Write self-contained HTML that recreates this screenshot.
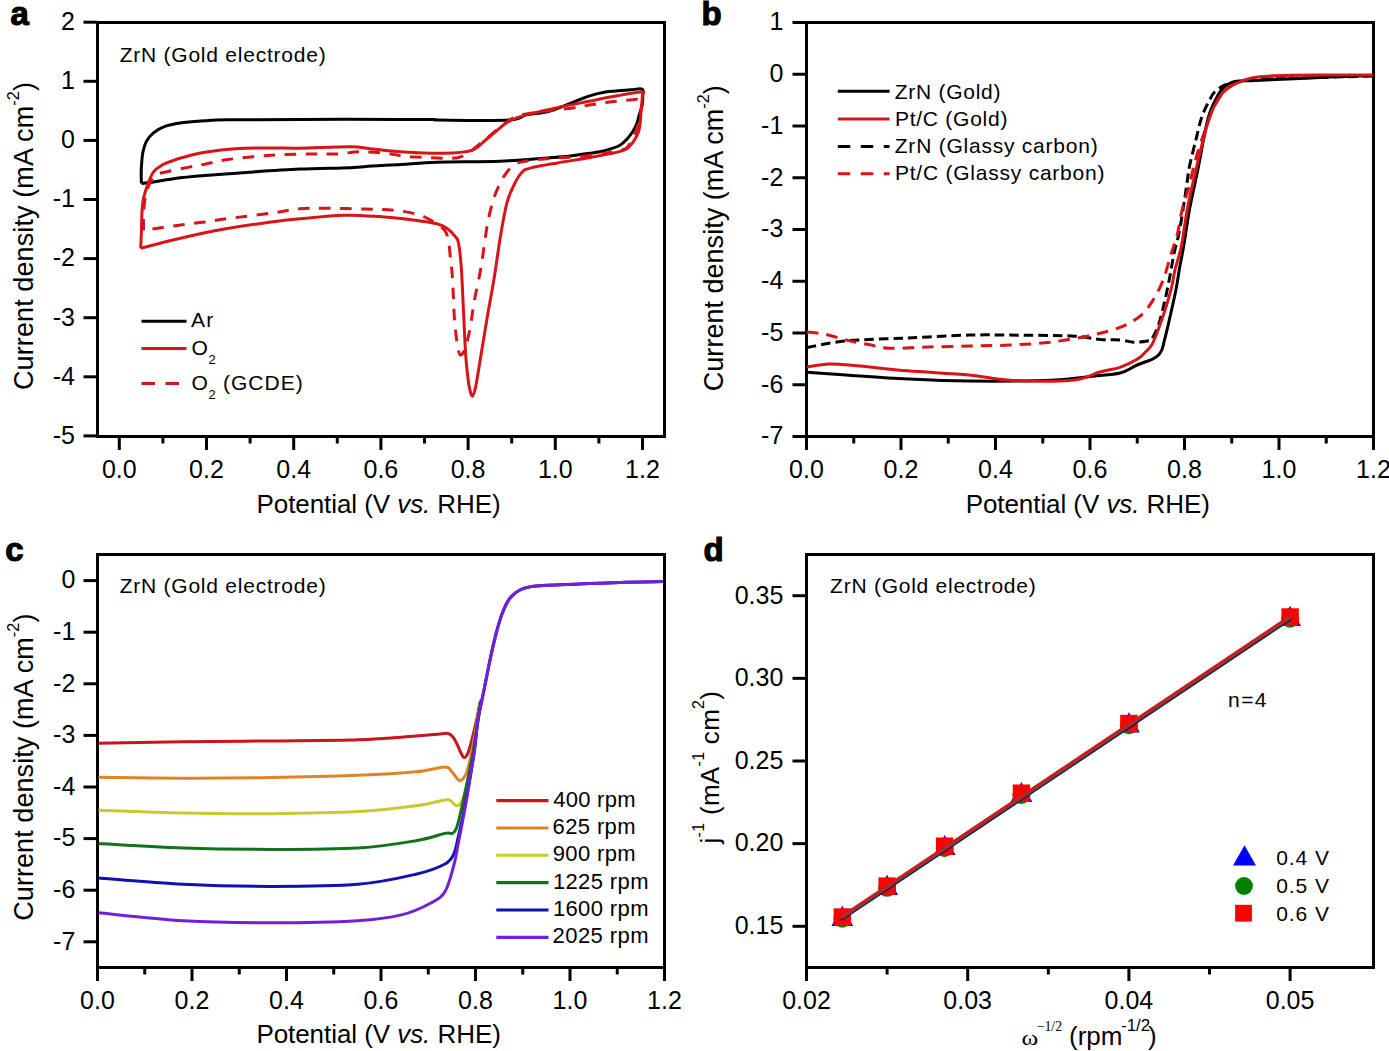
<!DOCTYPE html>
<html><head><meta charset="utf-8"><style>
html,body{margin:0;padding:0;background:#fff;width:1389px;height:1051px;overflow:hidden}
body{position:relative;font-family:"Liberation Sans",sans-serif}
</style></head><body>
<svg width="1389" height="1051" viewBox="0 0 1389 1051" style="position:absolute;left:0;top:0;font-family:'Liberation Sans',sans-serif">
<rect x="97.5" y="22.5" width="567" height="414" fill="none" stroke="#000" stroke-width="3"/>
<line x1="83.5" y1="22.2" x2="97.5" y2="22.2" stroke="#000" stroke-width="3" stroke-linecap="butt"/>
<text x="75" y="30" text-anchor="end" style="font-size:25px">2</text>
<line x1="83.5" y1="81.3" x2="97.5" y2="81.3" stroke="#000" stroke-width="3" stroke-linecap="butt"/>
<text x="75" y="89.1" text-anchor="end" style="font-size:25px">1</text>
<line x1="83.5" y1="140.4" x2="97.5" y2="140.4" stroke="#000" stroke-width="3" stroke-linecap="butt"/>
<text x="75" y="148.2" text-anchor="end" style="font-size:25px">0</text>
<line x1="83.5" y1="199.5" x2="97.5" y2="199.5" stroke="#000" stroke-width="3" stroke-linecap="butt"/>
<text x="75" y="207.3" text-anchor="end" style="font-size:25px">-1</text>
<line x1="83.5" y1="258.6" x2="97.5" y2="258.6" stroke="#000" stroke-width="3" stroke-linecap="butt"/>
<text x="75" y="266.4" text-anchor="end" style="font-size:25px">-2</text>
<line x1="83.5" y1="317.7" x2="97.5" y2="317.7" stroke="#000" stroke-width="3" stroke-linecap="butt"/>
<text x="75" y="325.5" text-anchor="end" style="font-size:25px">-3</text>
<line x1="83.5" y1="376.8" x2="97.5" y2="376.8" stroke="#000" stroke-width="3" stroke-linecap="butt"/>
<text x="75" y="384.6" text-anchor="end" style="font-size:25px">-4</text>
<line x1="83.5" y1="435.9" x2="97.5" y2="435.9" stroke="#000" stroke-width="3" stroke-linecap="butt"/>
<text x="75" y="443.7" text-anchor="end" style="font-size:25px">-5</text>
<line x1="119.3" y1="436.5" x2="119.3" y2="450" stroke="#000" stroke-width="3" stroke-linecap="butt"/>
<text x="119.3" y="477.5" text-anchor="middle" style="font-size:25px">0.0</text>
<line x1="206.5" y1="436.5" x2="206.5" y2="450" stroke="#000" stroke-width="3" stroke-linecap="butt"/>
<text x="206.5" y="477.5" text-anchor="middle" style="font-size:25px">0.2</text>
<line x1="293.7" y1="436.5" x2="293.7" y2="450" stroke="#000" stroke-width="3" stroke-linecap="butt"/>
<text x="293.7" y="477.5" text-anchor="middle" style="font-size:25px">0.4</text>
<line x1="380.9" y1="436.5" x2="380.9" y2="450" stroke="#000" stroke-width="3" stroke-linecap="butt"/>
<text x="380.9" y="477.5" text-anchor="middle" style="font-size:25px">0.6</text>
<line x1="468.1" y1="436.5" x2="468.1" y2="450" stroke="#000" stroke-width="3" stroke-linecap="butt"/>
<text x="468.1" y="477.5" text-anchor="middle" style="font-size:25px">0.8</text>
<line x1="555.3" y1="436.5" x2="555.3" y2="450" stroke="#000" stroke-width="3" stroke-linecap="butt"/>
<text x="555.3" y="477.5" text-anchor="middle" style="font-size:25px">1.0</text>
<line x1="642.5" y1="436.5" x2="642.5" y2="450" stroke="#000" stroke-width="3" stroke-linecap="butt"/>
<text x="642.5" y="477.5" text-anchor="middle" style="font-size:25px">1.2</text>
<line x1="162.9" y1="436.5" x2="162.9" y2="443.5" stroke="#000" stroke-width="3" stroke-linecap="butt"/>
<line x1="250.1" y1="436.5" x2="250.1" y2="443.5" stroke="#000" stroke-width="3" stroke-linecap="butt"/>
<line x1="337.3" y1="436.5" x2="337.3" y2="443.5" stroke="#000" stroke-width="3" stroke-linecap="butt"/>
<line x1="424.5" y1="436.5" x2="424.5" y2="443.5" stroke="#000" stroke-width="3" stroke-linecap="butt"/>
<line x1="511.7" y1="436.5" x2="511.7" y2="443.5" stroke="#000" stroke-width="3" stroke-linecap="butt"/>
<line x1="598.9" y1="436.5" x2="598.9" y2="443.5" stroke="#000" stroke-width="3" stroke-linecap="butt"/>
<rect x="806.5" y="22.5" width="567" height="414" fill="none" stroke="#000" stroke-width="3"/>
<line x1="792.5" y1="22.5" x2="806.5" y2="22.5" stroke="#000" stroke-width="3" stroke-linecap="butt"/>
<text x="783.3" y="30.3" text-anchor="end" style="font-size:25px">1</text>
<line x1="792.5" y1="74.25" x2="806.5" y2="74.25" stroke="#000" stroke-width="3" stroke-linecap="butt"/>
<text x="783.3" y="82.05" text-anchor="end" style="font-size:25px">0</text>
<line x1="792.5" y1="126" x2="806.5" y2="126" stroke="#000" stroke-width="3" stroke-linecap="butt"/>
<text x="783.3" y="133.8" text-anchor="end" style="font-size:25px">-1</text>
<line x1="792.5" y1="177.75" x2="806.5" y2="177.75" stroke="#000" stroke-width="3" stroke-linecap="butt"/>
<text x="783.3" y="185.55" text-anchor="end" style="font-size:25px">-2</text>
<line x1="792.5" y1="229.5" x2="806.5" y2="229.5" stroke="#000" stroke-width="3" stroke-linecap="butt"/>
<text x="783.3" y="237.3" text-anchor="end" style="font-size:25px">-3</text>
<line x1="792.5" y1="281.25" x2="806.5" y2="281.25" stroke="#000" stroke-width="3" stroke-linecap="butt"/>
<text x="783.3" y="289.05" text-anchor="end" style="font-size:25px">-4</text>
<line x1="792.5" y1="333" x2="806.5" y2="333" stroke="#000" stroke-width="3" stroke-linecap="butt"/>
<text x="783.3" y="340.8" text-anchor="end" style="font-size:25px">-5</text>
<line x1="792.5" y1="384.75" x2="806.5" y2="384.75" stroke="#000" stroke-width="3" stroke-linecap="butt"/>
<text x="783.3" y="392.55" text-anchor="end" style="font-size:25px">-6</text>
<line x1="792.5" y1="436.5" x2="806.5" y2="436.5" stroke="#000" stroke-width="3" stroke-linecap="butt"/>
<text x="783.3" y="444.3" text-anchor="end" style="font-size:25px">-7</text>
<line x1="806.5" y1="436.5" x2="806.5" y2="450" stroke="#000" stroke-width="3" stroke-linecap="butt"/>
<text x="806.5" y="477.5" text-anchor="middle" style="font-size:25px">0.0</text>
<line x1="901" y1="436.5" x2="901" y2="450" stroke="#000" stroke-width="3" stroke-linecap="butt"/>
<text x="901" y="477.5" text-anchor="middle" style="font-size:25px">0.2</text>
<line x1="995.5" y1="436.5" x2="995.5" y2="450" stroke="#000" stroke-width="3" stroke-linecap="butt"/>
<text x="995.5" y="477.5" text-anchor="middle" style="font-size:25px">0.4</text>
<line x1="1090" y1="436.5" x2="1090" y2="450" stroke="#000" stroke-width="3" stroke-linecap="butt"/>
<text x="1090" y="477.5" text-anchor="middle" style="font-size:25px">0.6</text>
<line x1="1184.5" y1="436.5" x2="1184.5" y2="450" stroke="#000" stroke-width="3" stroke-linecap="butt"/>
<text x="1184.5" y="477.5" text-anchor="middle" style="font-size:25px">0.8</text>
<line x1="1279" y1="436.5" x2="1279" y2="450" stroke="#000" stroke-width="3" stroke-linecap="butt"/>
<text x="1279" y="477.5" text-anchor="middle" style="font-size:25px">1.0</text>
<line x1="1373.5" y1="436.5" x2="1373.5" y2="450" stroke="#000" stroke-width="3" stroke-linecap="butt"/>
<text x="1373.5" y="477.5" text-anchor="middle" style="font-size:25px">1.2</text>
<line x1="853.75" y1="436.5" x2="853.75" y2="443.5" stroke="#000" stroke-width="3" stroke-linecap="butt"/>
<line x1="948.25" y1="436.5" x2="948.25" y2="443.5" stroke="#000" stroke-width="3" stroke-linecap="butt"/>
<line x1="1042.75" y1="436.5" x2="1042.75" y2="443.5" stroke="#000" stroke-width="3" stroke-linecap="butt"/>
<line x1="1137.25" y1="436.5" x2="1137.25" y2="443.5" stroke="#000" stroke-width="3" stroke-linecap="butt"/>
<line x1="1231.75" y1="436.5" x2="1231.75" y2="443.5" stroke="#000" stroke-width="3" stroke-linecap="butt"/>
<line x1="1326.25" y1="436.5" x2="1326.25" y2="443.5" stroke="#000" stroke-width="3" stroke-linecap="butt"/>
<rect x="97.5" y="554.5" width="567" height="413" fill="none" stroke="#000" stroke-width="3"/>
<line x1="83.5" y1="580.6" x2="97.5" y2="580.6" stroke="#000" stroke-width="3" stroke-linecap="butt"/>
<text x="75.3" y="588.4" text-anchor="end" style="font-size:25px">0</text>
<line x1="83.5" y1="632.2" x2="97.5" y2="632.2" stroke="#000" stroke-width="3" stroke-linecap="butt"/>
<text x="75.3" y="640" text-anchor="end" style="font-size:25px">-1</text>
<line x1="83.5" y1="683.8" x2="97.5" y2="683.8" stroke="#000" stroke-width="3" stroke-linecap="butt"/>
<text x="75.3" y="691.6" text-anchor="end" style="font-size:25px">-2</text>
<line x1="83.5" y1="735.4" x2="97.5" y2="735.4" stroke="#000" stroke-width="3" stroke-linecap="butt"/>
<text x="75.3" y="743.2" text-anchor="end" style="font-size:25px">-3</text>
<line x1="83.5" y1="787" x2="97.5" y2="787" stroke="#000" stroke-width="3" stroke-linecap="butt"/>
<text x="75.3" y="794.8" text-anchor="end" style="font-size:25px">-4</text>
<line x1="83.5" y1="838.6" x2="97.5" y2="838.6" stroke="#000" stroke-width="3" stroke-linecap="butt"/>
<text x="75.3" y="846.4" text-anchor="end" style="font-size:25px">-5</text>
<line x1="83.5" y1="890.2" x2="97.5" y2="890.2" stroke="#000" stroke-width="3" stroke-linecap="butt"/>
<text x="75.3" y="898" text-anchor="end" style="font-size:25px">-6</text>
<line x1="83.5" y1="941.8" x2="97.5" y2="941.8" stroke="#000" stroke-width="3" stroke-linecap="butt"/>
<text x="75.3" y="949.6" text-anchor="end" style="font-size:25px">-7</text>
<line x1="97.5" y1="967.5" x2="97.5" y2="981" stroke="#000" stroke-width="3" stroke-linecap="butt"/>
<text x="97.5" y="1008.5" text-anchor="middle" style="font-size:25px">0.0</text>
<line x1="192" y1="967.5" x2="192" y2="981" stroke="#000" stroke-width="3" stroke-linecap="butt"/>
<text x="192" y="1008.5" text-anchor="middle" style="font-size:25px">0.2</text>
<line x1="286.5" y1="967.5" x2="286.5" y2="981" stroke="#000" stroke-width="3" stroke-linecap="butt"/>
<text x="286.5" y="1008.5" text-anchor="middle" style="font-size:25px">0.4</text>
<line x1="381" y1="967.5" x2="381" y2="981" stroke="#000" stroke-width="3" stroke-linecap="butt"/>
<text x="381" y="1008.5" text-anchor="middle" style="font-size:25px">0.6</text>
<line x1="475.5" y1="967.5" x2="475.5" y2="981" stroke="#000" stroke-width="3" stroke-linecap="butt"/>
<text x="475.5" y="1008.5" text-anchor="middle" style="font-size:25px">0.8</text>
<line x1="570" y1="967.5" x2="570" y2="981" stroke="#000" stroke-width="3" stroke-linecap="butt"/>
<text x="570" y="1008.5" text-anchor="middle" style="font-size:25px">1.0</text>
<line x1="664.5" y1="967.5" x2="664.5" y2="981" stroke="#000" stroke-width="3" stroke-linecap="butt"/>
<text x="664.5" y="1008.5" text-anchor="middle" style="font-size:25px">1.2</text>
<line x1="144.75" y1="967.5" x2="144.75" y2="974.5" stroke="#000" stroke-width="3" stroke-linecap="butt"/>
<line x1="239.25" y1="967.5" x2="239.25" y2="974.5" stroke="#000" stroke-width="3" stroke-linecap="butt"/>
<line x1="333.75" y1="967.5" x2="333.75" y2="974.5" stroke="#000" stroke-width="3" stroke-linecap="butt"/>
<line x1="428.25" y1="967.5" x2="428.25" y2="974.5" stroke="#000" stroke-width="3" stroke-linecap="butt"/>
<line x1="522.75" y1="967.5" x2="522.75" y2="974.5" stroke="#000" stroke-width="3" stroke-linecap="butt"/>
<line x1="617.25" y1="967.5" x2="617.25" y2="974.5" stroke="#000" stroke-width="3" stroke-linecap="butt"/>
<rect x="806.5" y="554.5" width="567" height="413" fill="none" stroke="#000" stroke-width="3"/>
<line x1="792.5" y1="926.3" x2="806.5" y2="926.3" stroke="#000" stroke-width="3" stroke-linecap="butt"/>
<text x="783.3" y="934.1" text-anchor="end" style="font-size:25px">0.15</text>
<line x1="792.5" y1="843.65" x2="806.5" y2="843.65" stroke="#000" stroke-width="3" stroke-linecap="butt"/>
<text x="783.3" y="851.45" text-anchor="end" style="font-size:25px">0.20</text>
<line x1="792.5" y1="761" x2="806.5" y2="761" stroke="#000" stroke-width="3" stroke-linecap="butt"/>
<text x="783.3" y="768.8" text-anchor="end" style="font-size:25px">0.25</text>
<line x1="792.5" y1="678.35" x2="806.5" y2="678.35" stroke="#000" stroke-width="3" stroke-linecap="butt"/>
<text x="783.3" y="686.15" text-anchor="end" style="font-size:25px">0.30</text>
<line x1="792.5" y1="595.7" x2="806.5" y2="595.7" stroke="#000" stroke-width="3" stroke-linecap="butt"/>
<text x="783.3" y="603.5" text-anchor="end" style="font-size:25px">0.35</text>
<line x1="806.5" y1="967.5" x2="806.5" y2="981" stroke="#000" stroke-width="3" stroke-linecap="butt"/>
<text x="806.5" y="1008.6" text-anchor="middle" style="font-size:25px">0.02</text>
<line x1="967.7" y1="967.5" x2="967.7" y2="981" stroke="#000" stroke-width="3" stroke-linecap="butt"/>
<text x="967.7" y="1008.6" text-anchor="middle" style="font-size:25px">0.03</text>
<line x1="1128.9" y1="967.5" x2="1128.9" y2="981" stroke="#000" stroke-width="3" stroke-linecap="butt"/>
<text x="1128.9" y="1008.6" text-anchor="middle" style="font-size:25px">0.04</text>
<line x1="1290.1" y1="967.5" x2="1290.1" y2="981" stroke="#000" stroke-width="3" stroke-linecap="butt"/>
<text x="1290.1" y="1008.6" text-anchor="middle" style="font-size:25px">0.05</text>
<line x1="887.1" y1="967.5" x2="887.1" y2="974.5" stroke="#000" stroke-width="3" stroke-linecap="butt"/>
<line x1="1048.3" y1="967.5" x2="1048.3" y2="974.5" stroke="#000" stroke-width="3" stroke-linecap="butt"/>
<line x1="1209.5" y1="967.5" x2="1209.5" y2="974.5" stroke="#000" stroke-width="3" stroke-linecap="butt"/>
<path d="M141.4,183.5 C141.37,182.08 141.2,177.75 141.2,175 C141.2,172.25 141.13,170.7 141.4,167 C141.67,163.3 141.97,157.07 142.8,152.8 C143.63,148.53 144.62,144.73 146.4,141.4 C148.18,138.07 150.4,135.3 153.5,132.8 C156.6,130.3 160.25,128.07 165,126.4 C169.75,124.73 175.35,123.75 182,122.8 C188.65,121.85 197.35,121.2 204.9,120.7 C212.45,120.2 211.45,120.02 227.3,119.8 C243.15,119.58 271.22,119.47 300,119.4 C328.78,119.33 377.67,119.38 400,119.4 C422.33,119.42 427.33,119.38 434,119.5 C440.67,119.62 427.43,120.02 440,120.1 C452.57,120.18 495.05,120.87 509.4,120 C523.75,119.13 519.83,116.27 526.1,114.9 C532.37,113.53 540.03,113.55 547,111.8 C553.97,110.05 560.93,107.02 567.9,104.4 C574.87,101.78 582.53,98.18 588.8,96.1 C595.07,94.02 598.55,92.95 605.5,91.9 C612.45,90.85 624.38,90.27 630.5,89.8 C636.62,89.33 640.15,88.07 642.2,89.1 C644.25,90.13 642.8,93.35 642.8,96 C642.8,98.65 642.73,102.08 642.2,105 C641.67,107.92 640.47,110.5 639.6,113.5 C638.73,116.5 638.13,120 637,123 C635.87,126 634.5,128.8 632.8,131.5 C631.1,134.2 628.93,136.92 626.8,139.2 C624.67,141.48 622.57,143.63 620,145.2 C617.43,146.77 614.98,147.47 611.4,148.6 C607.82,149.73 602.78,151.13 598.5,152 C594.22,152.87 590.68,153.08 585.7,153.8 C580.72,154.52 575.05,155.6 568.6,156.3 C562.15,157 558.43,157.18 547,158 C535.57,158.82 518.37,160.5 500,161.2 C481.63,161.9 453.33,161.65 436.8,162.2 C420.27,162.75 411.6,163.87 400.8,164.5 C390,165.13 380.4,165.47 372,166 C363.6,166.53 362.4,167.18 350.4,167.7 C338.4,168.22 316.87,168.35 300,169.1 C283.13,169.85 265.05,171.12 249.2,172.2 C233.35,173.28 217.28,174.55 204.9,175.6 C192.52,176.65 183.47,177.43 174.9,178.5 C166.33,179.57 159.08,181.17 153.5,182 C147.92,182.83 143.42,183.25 141.4,183.5" fill="none" stroke="#000" stroke-width="3" stroke-linejoin="round"/>
<path d="M143.5,230.5 C143.5,227.92 143.25,220.25 143.5,215 C143.75,209.75 144.17,203.83 145,199 C145.83,194.17 147,189.67 148.5,186 C150,182.33 151.73,179.2 154,177 C156.27,174.8 156.23,174.45 162.1,172.8 C167.97,171.15 182.07,168.53 189.2,167.1 C196.33,165.67 198.55,165.45 204.9,164.2 C211.25,162.95 216.27,161.1 227.3,159.6 C238.33,158.1 257.07,156.13 271.1,155.2 C285.13,154.27 300.68,154.2 311.5,154 C322.32,153.8 327.83,154.37 336,154 C344.17,153.63 352.1,151.92 360.5,151.8 C368.9,151.68 379.2,152.57 386.4,153.3 C393.6,154.03 397.7,155.53 403.7,156.2 C409.7,156.87 415.68,156.95 422.4,157.3 C429.12,157.65 437.28,158.48 444,158.3 C450.72,158.12 455.98,159.2 462.7,156.2 C469.42,153.2 478.08,145.1 484.3,140.3 C490.52,135.5 494.88,131.28 500,127.4 C505.12,123.52 509.17,119.48 515,117 C520.83,114.52 525.37,114 535,112.5 C544.63,111 563.22,109.33 572.8,108 C582.38,106.67 585.63,105.58 592.5,104.5 C599.37,103.42 606.87,102.35 614,101.5 C621.13,100.65 630.63,99.9 635.3,99.4 C639.97,98.9 641.05,96.73 642,98.5 C642.95,100.27 641.83,105.08 641,110 C640.17,114.92 639,122.17 637,128 C635,133.83 631.83,141.27 629,145 C626.17,148.73 626.7,148.63 620,150.4 C613.3,152.17 600.97,154.22 588.8,155.6 C576.63,156.98 558.13,157.65 547,158.7 C535.87,159.75 527.83,160.6 522,161.9 C516.17,163.2 514.78,164.42 512,166.5 C509.22,168.58 507.18,171.82 505.3,174.4 C503.42,176.98 502.57,178.15 500.7,182 C498.83,185.85 496.3,190.53 494.1,197.5 C491.9,204.47 489.68,212.13 487.5,223.8 C485.32,235.47 483.18,254.73 481,267.5 C478.82,280.27 476.23,290.18 474.4,300.4 C472.57,310.62 471.45,321.15 470,328.8 C468.55,336.45 467.07,342.02 465.7,346.3 C464.33,350.58 463,353.77 461.8,354.5 C460.6,355.23 459.68,356.07 458.5,350.7 C457.32,345.33 455.7,334.33 454.7,322.3 C453.7,310.27 453.23,289.45 452.5,278.5 C451.77,267.55 451,263.02 450.3,256.6 C449.6,250.18 449.35,244.5 448.3,240 C447.25,235.5 447.12,233.02 444,229.6 C440.88,226.18 434.4,222.13 429.6,219.5 C424.8,216.87 421.2,215.35 415.2,213.8 C409.2,212.25 402,210.98 393.6,210.2 C385.2,209.42 375.6,209.42 364.8,209.1 C354,208.78 339.6,208.37 328.8,208.3 C318,208.23 309.62,207.88 300,208.7 C290.38,209.52 283.22,211.53 271.1,213.2 C258.98,214.87 238.33,217.23 227.3,218.7 C216.27,220.17 212.45,220.98 204.9,222 C197.35,223.02 189.37,223.85 182,224.8 C174.63,225.75 167.12,226.75 160.7,227.7 C154.28,228.65 146.37,230.03 143.5,230.5" fill="none" stroke="#d81419" stroke-width="3" stroke-linejoin="round" stroke-dasharray="11.5 9.5"/>
<path d="M140.7,248.4 C140.82,245.55 141.17,237.72 141.4,231.3 C141.63,224.88 141.75,215.38 142.1,209.9 C142.45,204.42 142.55,202.68 143.5,198.4 C144.45,194.12 146.13,188.63 147.8,184.2 C149.47,179.77 151.2,174.93 153.5,171.8 C155.8,168.67 158.52,167.2 161.6,165.4 C164.68,163.6 168.67,162.27 172,161 C175.33,159.73 176.12,159.25 181.6,157.8 C187.08,156.35 195.45,153.83 204.9,152.3 C214.35,150.77 227.27,149.32 238.3,148.6 C249.33,147.88 260.82,148.07 271.1,148 C281.38,147.93 286.78,148.4 300,148.2 C313.22,148 338.4,146.67 350.4,146.8 C362.4,146.93 363.6,148.17 372,149 C380.4,149.83 388.8,151.08 400.8,151.8 C412.8,152.52 432.15,153.53 444,153.3 C455.85,153.07 465.17,152.45 471.9,150.4 C478.63,148.35 480.23,144.32 484.4,141 C488.57,137.68 492.73,133.82 496.9,130.5 C501.07,127.18 504.53,123.7 509.4,121.1 C514.27,118.5 518.08,117.15 526.1,114.9 C534.12,112.65 547.05,109.87 557.5,107.6 C567.95,105.33 580.12,103.05 588.8,101.3 C597.48,99.55 600.9,98.67 609.6,97.1 C618.3,95.53 635.55,92.08 641,91.9 C646.45,91.72 642.3,92.68 642.3,96 C642.3,99.32 641.57,106.05 641,111.8 C640.43,117.55 640.65,124.93 638.9,130.5 C637.15,136.07 633.63,141.72 630.5,145.2 C627.37,148.68 627.05,149.32 620.1,151.4 C613.15,153.48 599.23,155.78 588.8,157.7 C578.37,159.62 567.25,161.17 557.5,162.9 C547.75,164.63 536.22,166.53 530.3,168.1 C524.38,169.67 524.63,169.65 522,172.3 C519.37,174.95 516.97,179.07 514.5,184 C512.03,188.93 509.5,193.45 507.2,201.9 C504.9,210.35 502.88,221.93 500.7,234.7 C498.52,247.47 496.3,265 494.1,278.5 C491.9,292 489.68,302.93 487.5,315.7 C485.32,328.47 482.95,343.38 481,355.1 C479.05,366.82 477.23,379.15 475.8,386 C474.37,392.85 473.45,395.87 472.4,396.2 C471.35,396.53 470.27,391.2 469.5,388 C468.73,384.8 468.43,382.48 467.8,377 C467.17,371.52 466.42,366.05 465.7,355.1 C464.98,344.15 464.23,325.9 463.5,311.3 C462.77,296.7 462.13,278.88 461.3,267.5 C460.47,256.12 459.47,248.12 458.5,243 C457.53,237.88 457.43,239.27 455.5,236.8 C453.57,234.33 450.02,230.37 446.9,228.2 C443.78,226.03 442.08,225.13 436.8,223.8 C431.52,222.47 424.8,221.4 415.2,220.2 C405.6,219 391.2,217.43 379.2,216.6 C367.2,215.77 356.4,214.83 343.2,215.2 C330,215.57 312.02,217.67 300,218.8 C287.98,219.93 283.22,220.38 271.1,222 C258.98,223.62 238.33,226.72 227.3,228.5 C216.27,230.28 214.82,230.58 204.9,232.7 C194.98,234.82 178.5,238.58 167.8,241.2 C157.1,243.82 145.22,247.2 140.7,248.4" fill="none" stroke="#d81419" stroke-width="3" stroke-linejoin="round"/>
<path d="M807,347.5 C813.5,346.4 829.23,342.48 846,340.9 C862.77,339.32 887.1,338.97 907.6,338 C928.1,337.03 951.93,335.58 969,335.1 C986.07,334.62 992.88,334.95 1010,335.1 C1027.12,335.25 1056.7,335.27 1071.7,336 C1086.7,336.73 1091.95,338.85 1100,339.5 C1108.05,340.15 1114.38,339.45 1120,339.9 C1125.62,340.35 1129.13,342.02 1133.7,342.2 C1138.27,342.38 1144.35,341.57 1147.4,341 C1150.45,340.43 1150.1,341.65 1152,338.8 C1153.9,335.95 1156.72,330 1158.8,323.9 C1160.88,317.8 1162.72,309.77 1164.5,302.2 C1166.28,294.63 1167.92,286.57 1169.5,278.5 C1171.08,270.43 1172.27,262.12 1174,253.8 C1175.73,245.48 1177.78,240.03 1179.9,228.6 C1182.02,217.17 1185.12,195.5 1186.7,185.2 C1188.28,174.9 1187.9,174.23 1189.4,166.8 C1190.9,159.37 1193.6,148.98 1195.7,140.6 C1197.8,132.22 1199.38,123.83 1202,116.5 C1204.62,109.17 1209.07,100.85 1211.4,96.6 C1213.73,92.35 1213.73,92.93 1216,91 C1218.27,89.07 1221,86.58 1225,85 C1229,83.42 1234.17,82.42 1240,81.5 C1245.83,80.58 1250,80.08 1260,79.5 C1270,78.92 1281.17,78.58 1300,78 C1318.83,77.42 1360.83,76.33 1373,76" fill="none" stroke="#000" stroke-width="3" stroke-linejoin="round" stroke-dasharray="9.5 5"/>
<path d="M807,331.9 C810.2,332.33 819.45,333.08 826.2,334.5 C832.95,335.92 840.42,338.72 847.5,340.4 C854.58,342.08 861.62,343.28 868.7,344.6 C875.78,345.92 880.12,347.9 890,348.3 C899.88,348.7 914.67,347.38 928,347 C941.33,346.62 956.33,346.33 970,346 C983.67,345.67 996.5,345.65 1010,345 C1023.5,344.35 1037.33,343.75 1051,342.1 C1064.67,340.45 1080.5,337.55 1092,335.1 C1103.5,332.65 1111.92,330.6 1120,327.4 C1128.08,324.2 1134.98,320.47 1140.5,315.9 C1146.02,311.33 1149.35,305.92 1153.1,300 C1156.85,294.08 1160.08,287.78 1163,280.4 C1165.92,273.02 1168.17,263.58 1170.6,255.7 C1173.03,247.82 1175.67,240.8 1177.6,233.1 C1179.53,225.4 1180.42,216.85 1182.2,209.5 C1183.98,202.15 1186.25,196.63 1188.3,189 C1190.35,181.37 1192.55,171.03 1194.5,163.7 C1196.45,156.37 1198.08,150.95 1200,145 C1201.92,139.05 1204.1,133.43 1206,128 C1207.9,122.57 1209.63,116.75 1211.4,112.4 C1213.17,108.05 1214.5,105.4 1216.6,101.9 C1218.7,98.4 1221.37,94.2 1224,91.4 C1226.63,88.6 1228.9,87 1232.4,85.1 C1235.9,83.2 1238.73,81.43 1245,80 C1251.27,78.57 1257.5,77.25 1270,76.5 C1282.5,75.75 1302.83,75.67 1320,75.5 C1337.17,75.33 1364.17,75.5 1373,75.5" fill="none" stroke="#d81419" stroke-width="3" stroke-linejoin="round" stroke-dasharray="11.5 8"/>
<path d="M807,372.2 C813.5,372.67 829.23,373.87 846,375 C862.77,376.13 887.1,377.98 907.6,379 C928.1,380.02 945.07,380.88 969,381.1 C992.93,381.32 1030.67,381.12 1051.2,380.3 C1071.73,379.48 1080.73,377.42 1092.2,376.2 C1103.67,374.98 1112.52,374.87 1120,373 C1127.48,371.13 1131.77,367.28 1137.1,365 C1142.43,362.72 1148.38,361.02 1152,359.3 C1155.62,357.58 1157.1,356.42 1158.8,354.7 C1160.5,352.98 1161.25,351.47 1162.2,349 C1163.15,346.53 1163.55,343.7 1164.5,339.9 C1165.45,336.1 1166.57,331.9 1167.9,326.2 C1169.23,320.5 1171.1,312.07 1172.5,305.7 C1173.9,299.33 1175.15,294.12 1176.3,288 C1177.45,281.88 1178.17,276 1179.4,269 C1180.63,262 1181.97,256.17 1183.7,246 C1185.43,235.83 1187.45,220.67 1189.8,208 C1192.15,195.33 1195.43,181.83 1197.8,170 C1200.17,158.17 1202.22,145.83 1204,137 C1205.78,128.17 1206.92,122.5 1208.5,117 C1210.08,111.5 1211.27,108.62 1213.5,104 C1215.73,99.38 1219.1,92.8 1221.9,89.3 C1224.7,85.8 1227.28,84.38 1230.3,83 C1233.32,81.62 1235.88,81.42 1240,81 C1244.12,80.58 1245,80.92 1255,80.5 C1265,80.08 1285.83,79.17 1300,78.5 C1314.17,77.83 1327.83,77 1340,76.5 C1352.17,76 1367.5,75.67 1373,75.5" fill="none" stroke="#000" stroke-width="3" stroke-linejoin="round"/>
<path d="M807,367 C810.77,366.48 820.77,364.07 829.6,363.9 C838.43,363.73 847,364.85 860,366 C873,367.15 889.43,369.3 907.6,370.8 C925.77,372.3 951.93,373.42 969,375 C986.07,376.58 992.88,379.42 1010,380.3 C1027.12,381.18 1056.7,381.68 1071.7,380.3 C1086.7,378.92 1091.95,374.17 1100,372 C1108.05,369.83 1113.82,369.42 1120,367.3 C1126.18,365.18 1132.72,361.97 1137.1,359.3 C1141.48,356.63 1143.82,353.77 1146.3,351.3 C1148.78,348.83 1150.3,347.35 1152,344.5 C1153.7,341.65 1154.98,338.02 1156.5,334.2 C1158.02,330.38 1159.57,325.98 1161.1,321.6 C1162.63,317.22 1163.98,313.5 1165.7,307.9 C1167.42,302.3 1169.82,294.48 1171.4,288 C1172.98,281.52 1173.53,276 1175.2,269 C1176.87,262 1179.35,256.17 1181.4,246 C1183.45,235.83 1185.08,220.67 1187.5,208 C1189.92,195.33 1193.67,179.83 1195.9,170 C1198.13,160.17 1199.18,155.98 1200.9,149 C1202.62,142.02 1204.45,134.2 1206.2,128.1 C1207.95,122 1209.67,116.77 1211.4,112.4 C1213.13,108.03 1214.5,105.4 1216.6,101.9 C1218.7,98.4 1221.37,94.2 1224,91.4 C1226.63,88.6 1229.27,86.85 1232.4,85.1 C1235.53,83.35 1238.53,82.25 1242.8,80.9 C1247.07,79.55 1250.02,77.93 1258,77 C1265.98,76.07 1278.78,75.62 1290.7,75.3 C1302.62,74.98 1315.78,75.13 1329.5,75.1 C1343.22,75.07 1365.75,75.1 1373,75.1" fill="none" stroke="#d81419" stroke-width="3" stroke-linejoin="round"/>
<path d="M98.5,743.3 C112.63,743.05 154.63,742.2 183.3,741.8 C211.97,741.4 241.42,741.23 270.5,740.9 C299.58,740.57 333.55,740.62 357.8,739.8 C382.05,738.98 402.3,736.97 416,736 C429.7,735.03 434.67,734.42 440,734 C445.33,733.58 445.83,733 448,733.5 C450.17,734 451.5,735.25 453,737 C454.5,738.75 455.75,741.5 457,744 C458.25,746.5 459.33,749.75 460.5,752 C461.67,754.25 462.83,757.17 464,757.5 C465.17,757.83 466.42,756.08 467.5,754 C468.58,751.92 469.5,748.5 470.5,745 C471.5,741.5 472.42,737.5 473.5,733 C474.58,728.5 475.92,723.17 477,718 C478.08,712.83 479.5,704.67 480,702" fill="none" stroke="#c8141c" stroke-width="3" stroke-linejoin="round"/>
<path d="M98.5,777.3 C112.63,777.45 154.63,778.15 183.3,778.2 C211.97,778.25 241.42,778.08 270.5,777.6 C299.58,777.12 333.55,776.27 357.8,775.3 C382.05,774.33 401.47,773.17 416,771.8 C430.53,770.43 438.95,767 445,767.1 C451.05,767.2 449.87,770.17 452.3,772.4 C454.73,774.63 457.42,780.02 459.6,780.5 C461.78,780.98 463.75,778.38 465.4,775.3 C467.05,772.22 468.23,767.05 469.5,762 C470.77,756.95 471.75,751.67 473,745 C474.25,738.33 475.75,729.17 477,722 C478.25,714.83 479.92,705.33 480.5,702" fill="none" stroke="#e0822a" stroke-width="3" stroke-linejoin="round"/>
<path d="M98.5,810.2 C112.63,810.68 154.63,812.52 183.3,813.1 C211.97,813.68 241.42,813.95 270.5,813.7 C299.58,813.45 333.55,812.92 357.8,811.6 C382.05,810.28 401.47,807.73 416,805.8 C430.53,803.87 439.17,800.8 445,800 C450.83,799.2 449.05,800.03 451,801 C452.95,801.97 454.95,805.63 456.7,805.8 C458.45,805.97 460.03,804.63 461.5,802 C462.97,799.37 464.17,794.83 465.5,790 C466.83,785.17 468.25,779.33 469.5,773 C470.75,766.67 471.75,760 473,752 C474.25,744 475.67,733.67 477,725 C478.33,716.33 480.33,704.17 481,700" fill="none" stroke="#c8c832" stroke-width="3" stroke-linejoin="round"/>
<path d="M98.5,843.6 C112.63,844.33 154.63,847.03 183.3,848 C211.97,848.97 241.42,849.4 270.5,849.4 C299.58,849.4 333.55,849.45 357.8,848 C382.05,846.55 401.47,843.13 416,840.7 C430.53,838.27 438.95,834.62 445,833.4 C451.05,832.18 450.38,834.3 452.3,833.4 C454.22,832.5 455.22,831.07 456.5,828 C457.78,824.93 458.67,820.5 460,815 C461.33,809.5 463,802 464.5,795 C466,788 467.58,780.17 469,773 C470.42,765.83 471.67,759.83 473,752 C474.33,744.17 475.67,734.67 477,726 C478.33,717.33 480.33,704.33 481,700" fill="none" stroke="#12721a" stroke-width="3" stroke-linejoin="round"/>
<path d="M98.5,877.9 C112.63,878.97 154.63,882.88 183.3,884.3 C211.97,885.72 241.42,886.4 270.5,886.4 C299.58,886.4 333.55,886.33 357.8,884.3 C382.05,882.27 401.47,877.58 416,874.2 C430.53,870.82 438.7,867.4 445,864 C451.3,860.6 451.63,858.13 453.8,853.8 C455.97,849.47 456.55,843.97 458,838 C459.45,832.03 461,825.17 462.5,818 C464,810.83 465.58,802.67 467,795 C468.42,787.33 469.75,779.5 471,772 C472.25,764.5 473.33,758.67 474.5,750 C475.67,741.33 476.42,730 478,720 C479.58,710 482,700 484,690 C486,680 488,669.33 490,660 C492,650.67 494,641.67 496,634 C498,626.33 499.67,620 502,614 C504.33,608 507,602 510,598 C513,594 515.67,592 520,590 C524.33,588 526,587 536,586 C546,585 566,584.6 580,584 C594,583.4 606.17,582.8 620,582.4 C633.83,582 655.83,581.73 663,581.6" fill="none" stroke="#1010b4" stroke-width="3" stroke-linejoin="round"/>
<path d="M98.5,912.8 C112.63,914.12 154.63,919.05 183.3,920.7 C211.97,922.35 241.42,922.7 270.5,922.7 C299.58,922.7 335.98,922 357.8,920.7 C379.62,919.4 389.28,917.82 401.4,914.9 C413.52,911.98 423.23,907.08 430.5,903.2 C437.77,899.32 441.12,897.9 445,891.6 C448.88,885.3 451.63,873.17 453.8,865.4 C455.97,857.63 456.55,852.27 458,845 C459.45,837.73 461,829.8 462.5,821.8 C464,813.8 465.58,805.3 467,797 C468.42,788.7 469.75,779.83 471,772 C472.25,764.17 473.33,758.67 474.5,750 C475.67,741.33 476.42,730 478,720 C479.58,710 482,700 484,690 C486,680 488,669.33 490,660 C492,650.67 494,641.67 496,634 C498,626.33 499.67,620 502,614 C504.33,608 507,602 510,598 C513,594 515.67,592 520,590 C524.33,588 526,587 536,586 C546,585 566,584.6 580,584 C594,583.4 606.17,582.8 620,582.4 C633.83,582 655.83,581.73 663,581.6" fill="none" stroke="#7020d8" stroke-width="3" stroke-linejoin="round"/>
<polygon points="831.42,925.9 853.22,925.9 842.32,905.7" fill="#0000ff"/>
<polygon points="876.2,895 898,895 887.1,874.8" fill="#0000ff"/>
<polygon points="933.76,855.1 955.56,855.1 944.66,834.9" fill="#0000ff"/>
<polygon points="1010.53,802.1 1032.33,802.1 1021.43,781.9" fill="#0000ff"/>
<polygon points="1118,732.4 1139.8,732.4 1128.9,712.2" fill="#0000ff"/>
<polygon points="1279.2,625.9 1301,625.9 1290.1,605.7" fill="#0000ff"/>
<circle cx="842.32" cy="918.75" r="9" fill="#008000"/>
<circle cx="887.1" cy="887.85" r="9" fill="#008000"/>
<circle cx="944.66" cy="847.95" r="9" fill="#008000"/>
<circle cx="1021.43" cy="794.95" r="9" fill="#008000"/>
<circle cx="1128.9" cy="725.25" r="9" fill="#008000"/>
<circle cx="1290.1" cy="618.75" r="9" fill="#008000"/>
<rect x="833.62" y="908.3" width="17.4" height="17.4" fill="#ff0000"/>
<rect x="878.4" y="877.4" width="17.4" height="17.4" fill="#ff0000"/>
<rect x="935.96" y="837.5" width="17.4" height="17.4" fill="#ff0000"/>
<rect x="1012.73" y="784.5" width="17.4" height="17.4" fill="#ff0000"/>
<rect x="1120.2" y="714.8" width="17.4" height="17.4" fill="#ff0000"/>
<rect x="1281.4" y="608.3" width="17.4" height="17.4" fill="#ff0000"/>
<line x1="842.32" y1="918.65" x2="1290.1" y2="619.01" stroke="#10106e" stroke-width="3.5" stroke-linecap="round"/>
<line x1="842.32" y1="917.25" x2="1290.1" y2="617.61" stroke="#2a6a2a" stroke-width="3.5" stroke-linecap="round"/>
<line x1="842.32" y1="916.35" x2="1290.1" y2="616.71" stroke="#c42020" stroke-width="3.5" stroke-linecap="round"/>
<text x="10.5" y="24.5" style="font-size:33px;font-weight:bold" fill="#000" stroke="#000" stroke-width="1.1">a</text>
<text x="701.38" y="24.5" style="font-size:33px;font-weight:bold" fill="#000" stroke="#000" stroke-width="1.1">b</text>
<text x="5.35" y="561.3" style="font-size:33px;font-weight:bold" fill="#000" stroke="#000" stroke-width="1.1">c</text>
<text x="703.52" y="561.4" style="font-size:33px;font-weight:bold" fill="#000" stroke="#000" stroke-width="1.1">d</text>
<text x="256.48" y="512.9" style="font-size:26px;letter-spacing:-0.07px">Potential (V <tspan style="font-style:italic">vs.</tspan> RHE)</text>
<text x="965.67" y="512.9" style="font-size:26px;letter-spacing:-0.07px">Potential (V <tspan style="font-style:italic">vs.</tspan> RHE)</text>
<text x="256.38" y="1043.3" style="font-size:26px;letter-spacing:-0.06px">Potential (V <tspan style="font-style:italic">vs.</tspan> RHE)</text>
<text transform="translate(32.7,389.98) rotate(-90)" style="font-size:27px;letter-spacing:0.1px">Current density (mA cm<tspan dy="-13.77" style="font-size:16.2px">-2</tspan><tspan dy="13.77">)</tspan></text>
<text transform="translate(722.7,391.18) rotate(-90)" style="font-size:27px;letter-spacing:0.02px">Current density (mA cm<tspan dy="-13.77" style="font-size:16.2px">-2</tspan><tspan dy="13.77">)</tspan></text>
<text transform="translate(33,920.77) rotate(-90)" style="font-size:27px;letter-spacing:0.07px">Current density (mA cm<tspan dy="-13.77" style="font-size:16.2px">-2</tspan><tspan dy="13.77">)</tspan></text>
<text x="119.67" y="61.8" style="font-size:21px;letter-spacing:0.77px" fill="#000" >ZrN (Gold electrode)</text>
<text x="119.67" y="592.6" style="font-size:21px;letter-spacing:0.77px" fill="#000" >ZrN (Gold electrode)</text>
<text x="830.08" y="592.6" style="font-size:21px;letter-spacing:0.75px" fill="#000" >ZrN (Gold electrode)</text>
<text x="1228.12" y="706.9" style="font-size:21px;letter-spacing:1.38px" fill="#000" >n=4</text>
<line x1="141.5" y1="321.3" x2="186.5" y2="321.3" stroke="#000" stroke-width="3" stroke-linecap="butt"/>
<line x1="141.5" y1="348.4" x2="186.5" y2="348.4" stroke="#d81419" stroke-width="3" stroke-linecap="butt"/>
<line x1="141.5" y1="383.4" x2="186.5" y2="383.4" stroke="#d81419" stroke-width="3" stroke-linecap="butt" stroke-dasharray="13.5 10.5"/>
<text x="191.1" y="327" style="font-size:21px;letter-spacing:1.27px" fill="#000" >Ar</text>
<text x="191.6" y="354.7" style="font-size:21px" fill="#000" >O</text>
<text x="208.57" y="364.1" style="font-size:13px" fill="#000" >2</text>
<text x="191.6" y="389.5" style="font-size:21px" fill="#000" >O</text>
<text x="208.57" y="398.9" style="font-size:13px" fill="#000" >2</text>
<text x="223.05" y="389.5" style="font-size:21px;letter-spacing:0.99px" fill="#000" >(GCDE)</text>
<line x1="837.8" y1="91.2" x2="889.6" y2="91.2" stroke="#000" stroke-width="3" stroke-linecap="butt"/>
<line x1="837.8" y1="119.1" x2="889.6" y2="119.1" stroke="#d81419" stroke-width="3" stroke-linecap="butt"/>
<line x1="837.8" y1="146.4" x2="889.6" y2="146.4" stroke="#000" stroke-width="3" stroke-linecap="butt" stroke-dasharray="12.5 10.5"/>
<line x1="837.8" y1="173.8" x2="889.6" y2="173.8" stroke="#d81419" stroke-width="3" stroke-linecap="butt" stroke-dasharray="12.5 10.5"/>
<text x="894.77" y="98.7" style="font-size:21px;letter-spacing:0.72px" fill="#000" >ZrN (Gold)</text>
<text x="894.95" y="125.5" style="font-size:21px;letter-spacing:0.75px" fill="#000" >Pt/C (Gold)</text>
<text x="894.77" y="153" style="font-size:21px;letter-spacing:0.77px" fill="#000" >ZrN (Glassy carbon)</text>
<text x="894.95" y="180.3" style="font-size:21px;letter-spacing:0.77px" fill="#000" >Pt/C (Glassy carbon)</text>
<line x1="496.3" y1="800.6" x2="548.5" y2="800.6" stroke="#c8141c" stroke-width="3.1" stroke-linecap="butt"/>
<text x="553.2" y="806.5" style="font-size:22px;letter-spacing:0.27px" fill="#000" >400 rpm</text>
<line x1="496.3" y1="827.95" x2="548.5" y2="827.95" stroke="#e0822a" stroke-width="3.1" stroke-linecap="butt"/>
<text x="552.58" y="833.85" style="font-size:22px;letter-spacing:0.38px" fill="#000" >625 rpm</text>
<line x1="496.3" y1="855.3" x2="548.5" y2="855.3" stroke="#c8c832" stroke-width="3.1" stroke-linecap="butt"/>
<text x="552.7" y="861.2" style="font-size:22px;letter-spacing:0.36px" fill="#000" >900 rpm</text>
<line x1="496.3" y1="882.65" x2="548.5" y2="882.65" stroke="#12721a" stroke-width="3.1" stroke-linecap="butt"/>
<text x="552.88" y="888.55" style="font-size:22px;letter-spacing:0.38px" fill="#000" >1225 rpm</text>
<line x1="496.3" y1="910" x2="548.5" y2="910" stroke="#1010b4" stroke-width="3.1" stroke-linecap="butt"/>
<text x="552.88" y="915.9" style="font-size:22px;letter-spacing:0.38px" fill="#000" >1600 rpm</text>
<line x1="496.3" y1="937.35" x2="548.5" y2="937.35" stroke="#7020d8" stroke-width="3.1" stroke-linecap="butt"/>
<text x="552.58" y="943.25" style="font-size:22px;letter-spacing:0.42px" fill="#000" >2025 rpm</text>
<polygon points="1233,865.6 1256,865.6 1244.5,845.2" fill="#0000ff"/>
<circle cx="1244" cy="886" r="8.9" fill="#008000"/>
<rect x="1235.1" y="904.8" width="16.8" height="16.8" fill="#ff0000"/>
<text x="1276.25" y="865.1" style="font-size:21px;letter-spacing:0.92px" fill="#000" >0.4 V</text>
<text x="1276.25" y="892.8" style="font-size:21px;letter-spacing:0.92px" fill="#000" >0.5 V</text>
<text x="1276.25" y="920.5" style="font-size:21px;letter-spacing:0.92px" fill="#000" >0.6 V</text>
<text transform="translate(1021.6,1045) scale(1.27,1)" style="font-family:'Liberation Serif',serif;font-size:20px">&#969;</text>
<text x="1036.7" y="1031" style="font-family:'Liberation Serif',serif;font-size:13.8px">&#8722;1/2</text>
<text x="1069" y="1045.4" style="font-size:26px">(rpm</text>
<text x="1121" y="1031" style="font-size:17px">-1/2</text>
<text x="1148" y="1045.4" style="font-size:26px">)</text>
<text transform="translate(718.7,843.5) rotate(-90)" style="font-size:26px;letter-spacing:0.3px">j<tspan dy="-14.3" style="font-size:16px">-1</tspan><tspan dy="14.3"> (mA</tspan><tspan dy="-14.3" style="font-size:16px">-1</tspan><tspan dy="14.3"> cm</tspan><tspan dy="-14.3" style="font-size:16px">2</tspan><tspan dy="14.3">)</tspan></text>
</svg>
</body></html>
